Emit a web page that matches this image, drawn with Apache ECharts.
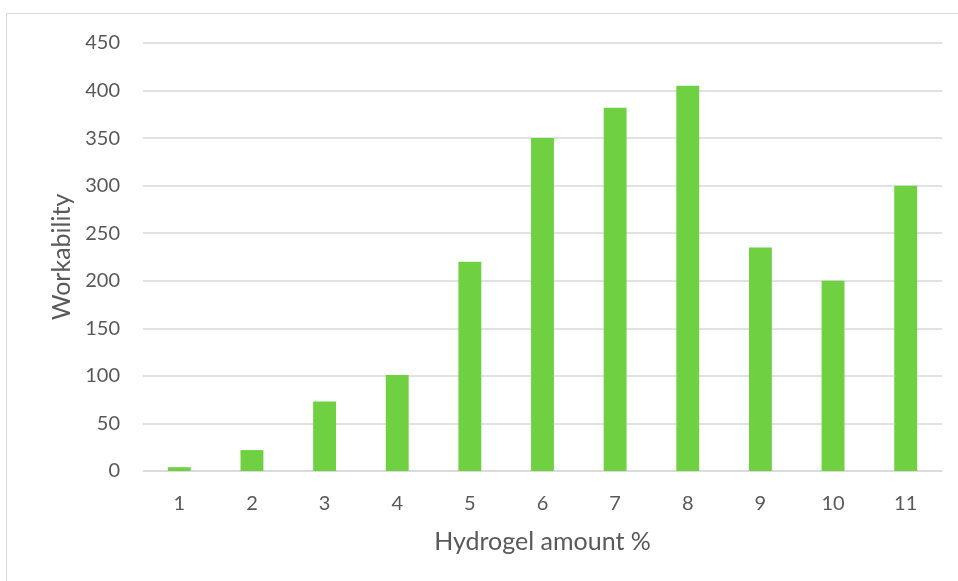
<!DOCTYPE html>
<html>
<head>
<meta charset="utf-8">
<script src="https://cdn.jsdelivr.net/npm/echarts@6/dist/echarts.min.js"></script>
<style>
  html, body { margin: 0; padding: 0; background: #fff; }
  #chart { width: 958px; height: 581px; }
</style>
</head>
<body>
<div id="chart"></div>
<script>
// Hydrogel dosage vs. workability
const categories = ['1', '2', '3', '4', '5', '6', '7', '8', '9', '10', '11'];
const workability = [4, 22, 73, 101, 220, 350, 382, 405, 235, 200, 300];
const yTicks = { min: 0, max: 450, interval: 50 };

const textColor = '#595959';
const fontFamily = 'Lato, "Open Sans", sans-serif';

const chart = echarts.init(document.getElementById('chart'));
chart.setOption({
  animation: false,
  graphic: [{
    type: 'rect',
    shape: { x: 6.5, y: 13.5, width: 1000, height: 1000 },
    style: { fill: 'none', stroke: '#d9d9d9', lineWidth: 1 },
    silent: true
  }],
  grid: { left: 143, right: 16, top: 43, bottom: 110, containLabel: false },
  xAxis: {
    type: 'category',
    data: categories,
    name: 'Hydrogel amount %',
    nameLocation: 'middle',
    nameGap: 58,
    nameTextStyle: { color: textColor, fontSize: 25, fontFamily },
    axisLine: { lineStyle: { color: '#d9d9d9', width: 1.5 } },
    axisTick: { show: false },
    axisLabel: { color: textColor, fontSize: 20, fontFamily, margin: 23 }
  },
  yAxis: {
    type: 'value',
    min: yTicks.min,
    max: yTicks.max,
    interval: yTicks.interval,
    name: 'Workability',
    nameLocation: 'middle',
    nameGap: 62,
    nameTextStyle: { color: textColor, fontSize: 25, fontFamily },
    axisLine: { show: false },
    axisTick: { show: false },
    axisLabel: { color: textColor, fontSize: 20, fontFamily, margin: 23 },
    splitLine: { lineStyle: { color: '#d9d9d9', width: 1.5 } }
  },
  series: [{
    type: 'bar',
    data: workability,
    barWidth: '31.5%',
    itemStyle: { color: '#6fd142' }
  }]
});
</script>
</body>
</html>
